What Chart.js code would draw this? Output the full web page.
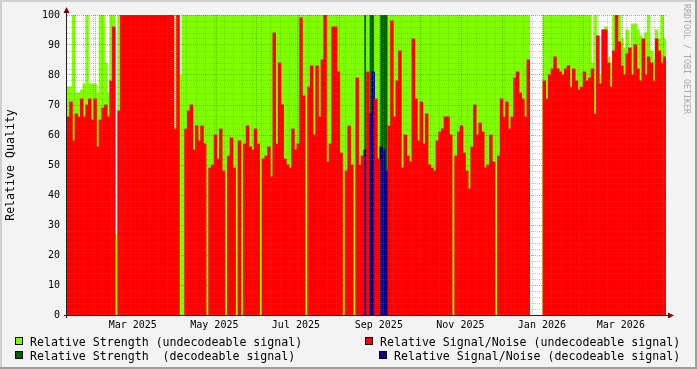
<!DOCTYPE html>
<html>
<head>
<meta charset="utf-8">
<script src="https://cdn.jsdelivr.net/npm/chart.js@4/dist/chart.umd.min.js"></script>
<style>
  html, body { margin: 0; padding: 0; background: #f3f3f3; }
  #wrap { position: relative; width: 697px; height: 369px; font-family: 'DejaVu Sans Mono', monospace; }
  #graph { position: absolute; left: 0; top: 0; }
  .key { position: absolute; font-size: 11.6px; line-height: 12px; white-space: pre; color: #000; }
  .box { position: absolute; width: 6px; height: 6px; border: 1px solid #000; }
  #credit { position: absolute; left: 682px; top: 4px; writing-mode: vertical-rl; font-size: 8.3px; line-height: 10px; color: #a8a8a8; white-space: pre; }
</style>
</head>
<body>
<div id="wrap">
  <canvas id="graph" width="697" height="369"></canvas>
  <div id="credit">RRDTOOL / TOBI OETIKER</div>
  <div class="box" style="left:15px;top:337px;background:#7fff00"></div>
  <div class="key" style="left:30px;top:336px">Relative Strength (undecodeable signal)</div>
  <div class="box" style="left:365px;top:337px;background:#ff0000"></div>
  <div class="key" style="left:380px;top:336px">Relative Signal/Noise (undecodeable signal)</div>
  <div class="box" style="left:15px;top:351px;background:#006400"></div>
  <div class="key" style="left:30px;top:350px">Relative Strength  (decodeable signal)</div>
  <div class="box" style="left:379px;top:351px;background:#00008b"></div>
  <div class="key" style="left:394px;top:350px">Relative Signal/Noise (decodeable signal)</div>
</div>
<script>
// one sample every two days, counted from 25 Jan 2025
const startDate = new Date(2025, 0, 25);
const stepDays = 2;
const dayCount = 448;

// relative strength, undecodeable signal (null = no sample)
const strengthUndecoded = [
    76, 76, 100, 74, 74, 75, 77, 100, 77, 77, 77, 74, 100, 100, 84, 74, 100, 100, 27, 100,
    100, 100, 100, 100, 100, 100, 100, 100, 100, 100, 100, 100, 100, 100, 100, 100, 100, 100, 100, 100,
    null, 100, 80, 100,
    100, 100, 100, 100, 100, 100, 100, 100, 100, 100, 100, 100, 100, 100, 100, 100, 100, 100, 100, 100,
    100, 100, 100, 100, 100, 100, 100, 100, 100, 100, 100, 100, 100, 100, 100, 100, 100, 100, 100, 100,
    100, 100, 100, 100, 100, 100, 100, 100, 100, 100, 100, 100, 100, 100, 100, 100, 100, 100, 100, 100,
    100, 100, 100, 100, 100, 100, 100,
    null, 100, null, null, 100, 100, null, null, null,
    100, 100, 100, 100, 100, 100, 100, 100, 100, 100, 100, 100, 100, 100, 100, 100, 100, 100, 100, 100,
    100, 100, 100, 100, 100, 100, 100, 100, 100, 100, 100, 100, 100, 100, 100, 100, 100, 100, 100, 100,
    100, 100, 100, 100, 100, 100, 100, 100, 100, 100, 100, 100, 100,
    null, null, null, null, null,
    100, 100, 100, 100, 100, 100, 100, 100, 100, 100, 100, 100, 100, 100, 100, 100, 100, 100,
    84, 100, 93, 80, 95, 96, 86, 84, 100, 100, 100, 92, 89, 95, 89, 97, 97, 95, 93, 92,
    94, 100, 88, 85, 95, 92, 100, 92
];

// relative signal/noise, undecodeable signal
const snrUndecoded = [
    66, 71, 58, 67, 66, 72, 66, 70, 72, 65, 72, 56, 65, 69, 70, 66, 78, 96, null, 68,
    100, 100, 100, 100, 100, 100, 100, 100, 100, 100, 100, 100, 100, 100, 100, 100, 100, 100, 100, 100,
    62, 100, null, null,
    62, 68, 70, 55, 63, 58, 63, 57, null, 49, 50, 60, 52, 62, 48, null, 53, 59, 49, null,
    58, null, 57, 63, 56, 55, 62, 57, null, 52, 53, 56, 46, 94, 57, 84, 70, 52, 50, 49,
    62, 55, 57, 99, 73, null, 76, 83, 60, 83, 66, 85, 100, 51, 57, 96, 96, 81, 54, null,
    48, 63, 50, null, 79, 50, 53, null, 81, null, null, 72, 52, null, null, null, 63, 98, 66, 78,
    88, 49, 60, 53, 51, 92, 72, 58, 71, 57, 67, 50, 49, 48, 58, 61, 62, 66, 66, 60,
    null, 53, 61, 63, 54, 48, 42, 56, 70, 60, 64, 61, 49, 50, 60, 51, null, 53, 72, 66,
    71, 62, 66, 79, 81, 74, 72, 66, 85, null, null, null, null, null, 78, 72, 80, 82, 86, 82,
    81, 80, 82, 83, 76, 82, 78, 75, 76, 81, 78, 79, 82, 67, 93, 77, 95, 95, 84, 76,
    88, 100, 91, 83, 80, 87, 89, 80, 90, 82, 78, 92, 80, 86, 84, 78, 92, 88, 84, 86
];

// the few samples where the signal was decodeable
const decodedAt = [111, 113, 114, 117, 118, 119];
const strengthDecoded = [100, 100, 100, 100, 100, 100];
const snrDecoded = [55, 67, 81, 56, 55, 48];

// axis labels
const monthTickLabels = ['', 'Mar 2025', '', 'May 2025', '', 'Jul 2025', '', 'Sep 2025', '',
    'Nov 2025', '', 'Jan 2026', '', 'Mar 2026', ''];
const yLabelValues = [0, 10, 20, 30, 40, 50, 60, 70, 80, 90, 100];

const FONT = 'DejaVu Sans Mono';
const GRID = 'rgba(120, 120, 120, 0.4)';
const MGRID = 'rgba(170, 50, 50, 0.5)';

const dayOf = (d) => Math.round((d - startDate) / 86400000);
const sampleDays = strengthUndecoded.map((_, i) => i * stepDays + stepDays / 2);

const strengthDecodedSeries = sampleDays.map(() => null);
const snrDecodedSeries = sampleDays.map(() => null);
decodedAt.forEach((idx, k) => {
    strengthDecodedSeries[idx] = strengthDecoded[k];
    snrDecodedSeries[idx] = snrDecoded[k];
});

// month starts Feb 2025 .. Apr 2026 (major grid), Mondays (minor grid)
const monthDays = monthTickLabels.map((_, k) => dayOf(new Date(2025, 1 + k, 1)));
const weekDays = [];
for (let d = dayOf(new Date(2025, 0, 27)); d < dayCount; d += 7) weekDays.push(d);
const yGrid = [];
for (let v = 0; v <= 100; v += 2) yGrid.push(v);

const framePlugin = {
    id: 'frame',
    beforeDraw(chart) {
        const c = chart.ctx, a = chart.chartArea, w = chart.width, h = chart.height;
        c.save();
        c.fillStyle = '#f3f3f3';
        c.fillRect(0, 0, w, h);
        c.fillStyle = '#cfcfcf';
        c.fillRect(0, 0, w, 2);
        c.fillRect(0, 0, 2, h);
        c.fillStyle = '#9e9e9e';
        c.fillRect(0, h - 2, w, 2);
        c.fillRect(w - 2, 0, 2, h);
        c.fillStyle = '#ffffff';
        c.fillRect(a.left, a.top, a.right - a.left, a.bottom - a.top);
        c.restore();
    },
    afterDraw(chart) {
        const c = chart.ctx, a = chart.chartArea;
        c.save();
        c.strokeStyle = '#202020';
        c.lineWidth = 1;
        c.beginPath();
        c.moveTo(a.left - 3, a.bottom + 0.5);
        c.lineTo(a.right + 4, a.bottom + 0.5);
        c.moveTo(a.left - 0.5, a.bottom + 3);
        c.lineTo(a.left - 0.5, a.top - 4);
        c.stroke();
        c.fillStyle = '#7f0000';
        c.beginPath();
        c.moveTo(a.left - 3.5, a.top - 2);
        c.lineTo(a.left + 2.5, a.top - 2);
        c.lineTo(a.left - 0.5, a.top - 8);
        c.closePath();
        c.fill();
        c.beginPath();
        c.moveTo(a.right + 2, a.bottom - 2.5);
        c.lineTo(a.right + 2, a.bottom + 3.5);
        c.lineTo(a.right + 8, a.bottom + 0.5);
        c.closePath();
        c.fill();
        c.restore();
    }
};

const ctx = document.getElementById('graph').getContext('2d');
new Chart(ctx, {
    type: 'bar',
    data: {
        labels: sampleDays,
        datasets: [
            { label: 'Relative Signal/Noise (undecodeable signal)', data: snrUndecoded, backgroundColor: '#ff0000', order: 1 },
            { label: 'Relative Signal/Noise (decodeable signal)', data: snrDecodedSeries, backgroundColor: '#00008b', order: 1 },
            { label: 'Relative Strength (undecodeable signal)', data: strengthUndecoded, backgroundColor: '#7fff00', order: 2 },
            { label: 'Relative Strength  (decodeable signal)', data: strengthDecodedSeries, backgroundColor: '#006400', order: 2 }
        ]
    },
    options: {
        responsive: false,
        animation: false,
        events: [],
        layout: { padding: { left: 0, top: 15, right: 31, bottom: 34 } },
        datasets: {
            bar: { grouped: false, barPercentage: 1, categoryPercentage: 1, inflateAmount: 0.4, borderWidth: 0 }
        },
        plugins: { legend: { display: false }, tooltip: { enabled: false } },
        scales: {
            x: {
                type: 'linear', axis: 'x', position: 'bottom',
                min: 0, max: dayCount, offset: false,
                afterBuildTicks: (s) => { s.ticks = monthDays.map(v => ({ value: v })); },
                afterFit: (s) => { s.height = 20; },
                grid: { z: 1, color: MGRID, drawTicks: false },
                border: { display: false, dash: [1, 1] },
                ticks: {
                    autoSkip: false, maxRotation: 0, padding: 4, labelOffset: 19,
                    color: '#000', font: { family: FONT, size: 10 },
                    callback: (v, i) => monthTickLabels[i]
                }
            },
            xWeek: {
                type: 'linear', axis: 'x', position: 'top',
                min: 0, max: dayCount, offset: false,
                afterBuildTicks: (s) => { s.ticks = weekDays.map(v => ({ value: v })); },
                afterFit: (s) => { s.height = 0; },
                grid: { z: 1, color: GRID, drawTicks: false },
                border: { display: false, dash: [1, 1] },
                ticks: { display: false }
            },
            y: {
                min: 0, max: 100,
                afterBuildTicks: (s) => { s.ticks = yGrid.map(v => ({ value: v })); },
                afterFit: (s) => { s.width = 67; },
                grid: {
                    z: 1, drawTicks: false,
                    color: (c) => (c.tick && c.tick.value % 10 === 0 ? MGRID : GRID)
                },
                border: { display: false, dash: [1, 1] },
                ticks: {
                    autoSkip: false, padding: 7, color: '#000', font: { family: FONT, size: 10 },
                    callback: (v) => (yLabelValues.includes(v) ? String(v) : '')
                },
                title: {
                    display: true, text: 'Relative Quality', color: '#000',
                    font: { family: FONT, size: 11.6 }, padding: { top: 4, bottom: 0 }
                }
            }
        }
    },
    plugins: [framePlugin]
});
</script>
</body>
</html>
